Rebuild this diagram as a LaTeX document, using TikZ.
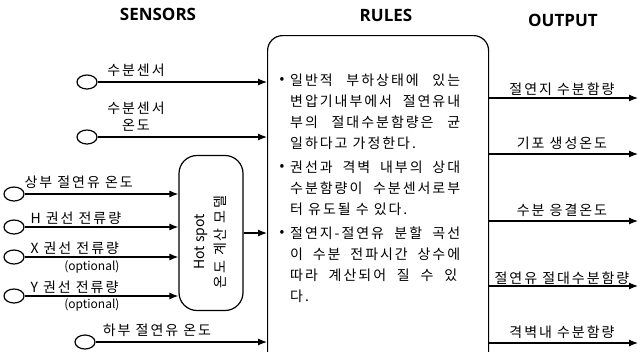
\documentclass[tikz,border=0pt]{standalone}
\usepackage{fontspec}
\setmainfont{Noto Sans CJK KR}[WordSpace=1.0, LetterSpace=14]
\newfontfamily\latinfont{Noto Sans CJK KR}
\newfontfamily\titlefont{Open Sans}
\usetikzlibrary{arrows.meta,shapes.geometric}
\newcommand{\jline}[1]{\makebox[170pt][s]{#1}}

\begin{document}
\begin{tikzpicture}[
    x=1pt, y=-1pt,
    font=\fontsize{14}{17}\selectfont,
    >={Latex[length=9pt,width=7pt]},
    line/.style={draw, black, line width=1.2pt},
    sensor/.style={draw, black, line width=1.2pt, ellipse, minimum width=20pt, minimum height=14pt, inner sep=0pt},
    title/.style={font=\titlefont\bfseries\fontsize{17}{20}\selectfont},
    rulebox/.style={draw, black, line width=1.2pt, rounded corners=15pt, minimum width=221pt, minimum height=360pt, inner sep=0pt},
    hotbox/.style={draw, black, line width=1.2pt, rounded corners=18pt, minimum width=64pt, minimum height=155pt, inner sep=0pt},
    ruletext/.style={anchor=north west, inner sep=0pt, align=left, font=\fontsize{14}{21}\selectfont},
    small/.style={font=\latinfont\fontsize{12}{14}\selectfont},
  ]
  \useasboundingbox (0,0) rectangle (640,351);
  \clip (0,0) rectangle (640,351);

  % ---- titulos ----
  \node[title] (tSensors) at (158,14) {SENSORS};
  \node[title] (tRules) at (386,15) {RULES};
  \node[title] (tOutput) at (563,20) {OUTPUT};

  % ---- caja de reglas ----
  \node[rulebox, anchor=north west] (rules) at (267,35) {};
  \node (b1) at (282,80) {•};
  \node[ruletext] (r1) at (290,74) {\jline{일반적 부하상태에 있는}\\\jline{변압기내부에서 절연유내}\\\jline{부의 절대수분함량은 균}\\일하다고 가정한다.};
  \node (b2) at (282,167) {•};
  \node[ruletext] (r2) at (290,161) {\jline{권선과 격벽 내부의 상대}\\\jline{수분함량이 수분센서로부}\\터 유도될 수 있다.};
  \node (b3) at (282,233) {•};
  \node[ruletext] (r3) at (290,227) {\jline{절연지-절연유 분할 곡선}\\\jline{이 수분 전파시간 상수에}\\\makebox[167pt][s]{따라 계산되어 질 수 있}\\다.};

  % ---- sensores directos ----
  \node[sensor] (sMoist) at (87,82) {};
  \node[sensor] (sMoistT) at (87,137) {};
  \node[sensor] (sBot) at (85,342) {};
  \node (lMoist) at (136,70) {수분센서};
  \node[align=center] (lMoistT) at (136,117) {수분센서\\온도};
  \node (lBot) at (157,330) {하부 절연유 온도};
  \draw[line,->] (sMoist) -- (sMoist -| rules.west);
  \draw[line,->] (sMoistT) -- (sMoistT -| rules.west);
  \draw[line,->] (sBot) -- (sBot -| rules.west);

  % ---- modelo hot spot ----
  \node[hotbox] (hotspot) at (211,233) {};
  \node[rotate=90, align=center, font=\fontsize{14}{21}\selectfont] (hottext) at (210,242) {{\latinfont Hot spot}\\온도 계산 모델};
  \node[sensor] (sTop) at (14,194) {};
  \node[sensor] (sH) at (14,227) {};
  \node[sensor] (sX) at (14,257) {};
  \node[sensor] (sY) at (14,296) {};
  \node[anchor=west] (lTop) at (21,182) {상부 절연유 온도};
  \node[anchor=west] (lH) at (27,218) {H 권선 전류량};
  \node[anchor=west] (lX) at (27,248) {X 권선 전류량};
  \node[small, anchor=east] (optX) at (123,267) {(optional)};
  \node[anchor=west] (lY) at (27,287) {Y 권선 전류량};
  \node[small, anchor=east] (optY) at (123,305) {(optional)};
  \foreach \s in {sTop, sH, sX, sY}
    \draw[line,->] (\s) -- (\s -| hotspot.west);
  \draw[line,->] (hotspot.east) -- (hotspot.east -| rules.west);

  % ---- salidas ----
  \foreach \y/\ly/\lbl in {98/89/절연지 수분함량, 154/143/기포 생성온도, 221/210/수분 응결온도, 286/278/절연유 절대수분함량, 343/332/격벽내 수분함량} {
    \coordinate (out\y) at (638,\y);
    \draw[line,->] (out\y -| rules.east) -- (out\y);
    \node (outlbl\y) at (562,\ly) {\lbl};
  }
\end{tikzpicture}
\end{document}
